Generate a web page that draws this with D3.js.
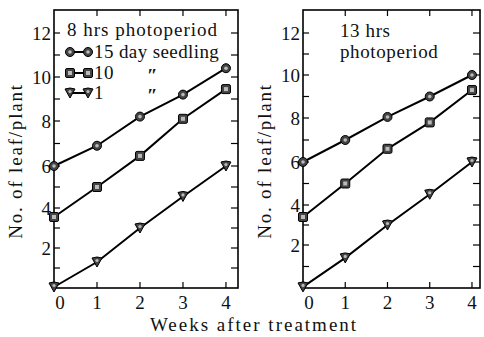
<!DOCTYPE html>
<html>
<head>
<meta charset="utf-8">
<script src="https://cdn.jsdelivr.net/npm/d3@7"></script>
<style>
  body { margin: 0; background: #fff; }
  #chart text { font-family: "Liberation Serif" !important; }
</style>
</head>
<body>
<svg id="chart" width="484" height="337"></svg>
<script>
const weeks = [0, 1, 2, 3, 4];
const seedlingAges = ['15 day seedling', '10', '1'];

// 8 hrs photoperiod
const short15 = [6.0, 6.9, 8.2, 9.2, 10.4];
const short10 = [3.55, 5.0, 6.45, 8.1, 9.45];
const short1 = [0.05, 1.3, 3.0, 4.55, 6.0];

// 13 hrs photoperiod
const long15 = [6.0, 7.0, 8.05, 9.0, 10.0];
const long10 = [3.4, 5.0, 6.6, 7.8, 9.3];
const long1 = [0.05, 1.4, 3.0, 4.5, 6.0];

const yTicks = [2, 4, 6, 8, 10, 12];
const xTicks = [0, 1, 2, 3, 4];

const svg = d3.select('#chart');

// the scanned axes are not perfectly even, so each panel maps its ticks piecewise
const yKnots = [0, 2, 4, 6, 8, 10, 12, 13.1];
const panels = [
  {left: 54, right: 238, xMax: 4.28, yPix: [288, 248, 208, 166, 121, 77, 33, 10],
   series: [short15, short10, short1]},
  {left: 303, right: 480, xMax: 4.19, yPix: [288, 245, 205, 162, 118, 75, 33, 10],
   series: [long15, long10, long1]}
];
const plotTop = 10, plotBottom = 288;

// marker shapes
const drawMarker = (g, kind, cx, cy) => {
  if (kind === 0) {
    g.append('circle').attr('cx', cx).attr('cy', cy).attr('r', 4.5)
      .attr('fill', '#444').attr('stroke', '#000').attr('stroke-width', 1);
    g.append('circle').attr('cx', cx).attr('cy', cy).attr('r', 1.8)
      .attr('fill', '#bbb');
  } else if (kind === 1) {
    g.append('rect').attr('x', cx - 4.5).attr('y', cy - 4.5).attr('width', 9).attr('height', 9)
      .attr('rx', 1.5).attr('fill', '#444').attr('stroke', '#000').attr('stroke-width', 1);
    g.append('rect').attr('x', cx - 2).attr('y', cy - 2).attr('width', 4).attr('height', 4)
      .attr('fill', '#bbb');
  } else {
    g.append('path')
      .attr('d', `M${cx - 5},${cy - 4} Q${cx},${cy - 6} ${cx + 5},${cy - 4} L${cx},${cy + 5} Z`)
      .attr('fill', '#444').attr('stroke', '#000').attr('stroke-width', 1);
    g.append('circle').attr('cx', cx).attr('cy', cy - 1.5).attr('r', 1.6).attr('fill', '#bbb');
  }
};

panels.forEach(p => {
  const x = d3.scaleLinear().domain([0, p.xMax]).range([p.left, p.right]);
  const y = d3.scaleLinear().domain(yKnots).range(p.yPix);
  const g = svg.append('g');

  // frame
  g.append('rect')
    .attr('x', p.left).attr('y', plotTop)
    .attr('width', p.right - p.left).attr('height', plotBottom - plotTop)
    .attr('fill', 'none').attr('stroke', '#000').attr('stroke-width', 1.6);

  // inward ticks, every integer on y
  const yMinor = d3.range(1, 13);
  g.selectAll('line.ytl').data(yMinor).join('line')
    .attr('x1', p.left).attr('x2', p.left + 6)
    .attr('y1', d => y(d)).attr('y2', d => y(d))
    .attr('stroke', '#000').attr('stroke-width', 1.2);
  g.selectAll('line.ytr').data(yMinor).join('line')
    .attr('x1', p.right).attr('x2', p.right - 7)
    .attr('y1', d => y(d)).attr('y2', d => y(d))
    .attr('stroke', '#000').attr('stroke-width', 1.2);
  g.selectAll('line.xtb').data(xTicks.slice(1)).join('line')
    .attr('x1', d => x(d)).attr('x2', d => x(d))
    .attr('y1', plotBottom).attr('y2', plotBottom - 6)
    .attr('stroke', '#000').attr('stroke-width', 1.2);
  g.selectAll('line.xtt').data(xTicks.slice(1)).join('line')
    .attr('x1', d => x(d)).attr('x2', d => x(d))
    .attr('y1', plotTop).attr('y2', plotTop + 6)
    .attr('stroke', '#000').attr('stroke-width', 1.2);

  // tick labels
  g.selectAll('text.yl').data(yTicks).join('text')
    .attr('x', p.left - 3).attr('y', d => y(d))
    .attr('dy', '0.35em').attr('text-anchor', 'end')
    .attr('font-size', 19)
    .text(d => d);
  g.selectAll('text.xl').data(xTicks).join('text')
    .attr('x', d => x(d) + (d === 0 ? 6 : 0)).attr('y', plotBottom + 21)
    .attr('text-anchor', 'middle')
    .attr('font-size', 19)
    .text(d => d);

  // y axis title
  g.append('text')
    .attr('transform', `translate(${p.left - 32},${(plotTop + plotBottom) / 2 + 12}) rotate(-90)`)
    .attr('text-anchor', 'middle')
    .attr('font-size', 19)
    .attr('letter-spacing', 1.8)
    .text('No. of leaf/plant');

  // series
  const line = d3.line().x((d, i) => x(weeks[i])).y(d => y(d));
  p.series.forEach((vals, si) => {
    g.append('path').datum(vals)
      .attr('d', line)
      .attr('fill', 'none').attr('stroke', '#000').attr('stroke-width', 2);
    const mg = g.append('g');
    vals.forEach((v, i) => drawMarker(mg, si, x(weeks[i]), y(v)));
  });
});

// legend (left panel)
const lg = svg.append('g');
lg.append('text').attr('x', 67).attr('y', 36).attr('font-size', 19)
  .attr('letter-spacing', 1).text('8 hrs  photoperiod');
const legendRows = [52, 73, 93];
seedlingAges.forEach((name, i) => {
  const ly = legendRows[i];
  lg.append('line').attr('x1', 70).attr('x2', 88).attr('y1', ly).attr('y2', ly)
    .attr('stroke', '#000').attr('stroke-width', 2);
  drawMarker(lg, i, 70, ly);
  drawMarker(lg, i, 88, ly);
  lg.append('text').attr('x', 94).attr('y', ly + 6).attr('font-size', 19)
    .attr('letter-spacing', 0.4)
    .text(name);
  if (i > 0) {
    lg.append('text').attr('x', 147).attr('y', ly + 9).attr('font-size', 19)
      .attr('font-style', 'italic').attr('font-weight', 'bold').text('″');
  }
});

// right panel label
svg.append('text').attr('x', 340).attr('y', 37).attr('font-size', 19)
  .attr('letter-spacing', 0.6).text('13 hrs');
svg.append('text').attr('x', 340).attr('y', 58).attr('font-size', 19)
  .attr('letter-spacing', 0.6).text('photoperiod');

// x axis title
svg.append('text').attr('x', 254).attr('y', 331)
  .attr('text-anchor', 'middle').attr('font-size', 19)
  .attr('letter-spacing', 2)
  .text('Weeks after treatment');

// serif face on every text node
svg.selectAll('text')
  .attr('font-family', 'Liberation Serif')
  .style('font-family', '"Liberation Serif"', 'important')
  .style('fill', '#111');
</script>
</body>
</html>
